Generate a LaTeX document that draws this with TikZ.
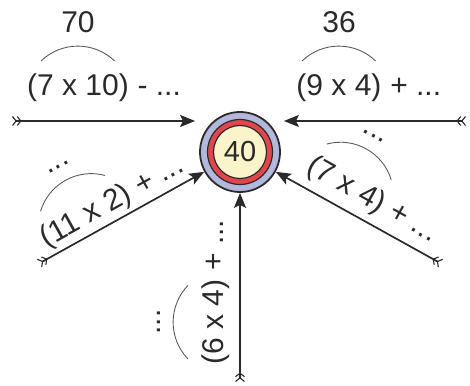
\documentclass[tikz,border=0pt]{standalone}
\usepackage{fontspec}
\setmainfont{Liberation Sans}
\usepackage{tikz}
\usetikzlibrary{arrows.meta}
\definecolor{inkline}{HTML}{2A2A2A}
\definecolor{humpgray}{HTML}{5C5C5C}
\definecolor{ringblue}{HTML}{B4B7DC}
\definecolor{ringred}{HTML}{E0464C}
\definecolor{corecream}{HTML}{FBF3C9}
\tikzset{
  arr/.style={{Straight Barb[reversed,length=3.5pt,width=9pt,line width=1.1pt]Straight Barb[reversed,length=3.5pt,width=9pt,line width=1.1pt]}-{Stealth[length=15pt,width=12pt,inset=3pt]},
    draw=inkline, line width=1.7pt},
  lbl/.style={inner sep=0pt, text=inkline, font=\fontsize{30}{36}\selectfont},
  hump/.style={draw=humpgray, line width=0.9pt},
  target/.style={circle, minimum size=80pt, inner sep=0pt, draw=inkline,
    fill=ringblue, line width=1.8pt},
  core/.style={circle, minimum size=53pt, inner sep=0pt, draw=inkline,
    fill=corecream, line width=1.2pt, text=inkline, font=\fontsize{29}{34}\selectfont},
}
% label on one arm: name, base point, angle, product, rest, value over the arc
\newcommand{\armlabel}[6]{%
  \begin{scope}[shift={#2}, rotate=#3, transform shape]
    \node[lbl, anchor=base] (#1) at (0,0) {#4};
    \node[lbl, anchor=base west] (#1r) at (#1.base east) {~#5};
    \draw[hump] (-37pt,35pt) arc[start angle=134, end angle=46, radius=53pt];
    \node[lbl, anchor=base] (#1t) at (0,63pt) {#6};
  \end{scope}}

\begin{document}
\begin{tikzpicture}[x=1pt, y=1pt]
  \useasboundingbox (0,0) rectangle (470,385);

  % the target
  \node[target] (c) at (240,233) {};
  \draw[line width=1.2pt, draw=inkline, fill=ringred] (c.center) circle[radius=32.5pt];
  \node[core] (n40) at (c.center) {40};

  % tails of the arms
  \coordinate (tl) at (12,264);
  \coordinate (tr) at (466,264);
  \coordinate (tbl) at (39,121.5);
  \coordinate (tbr) at (441,121.5);
  \coordinate (tb) at (240,3);

  \draw[arr, shorten >=4pt] (tl) -- (tl -| c.west);
  \draw[arr, shorten >=3pt] (tr) -- (tr -| c.east);
  \draw[arr] (tbl) -- (c.209);
  \draw[arr] (tbr) -- (c.331);
  \draw[arr] (tb) -- (c.south);

  \armlabel{lab70}{(78,289)}{0}{(7 x 10)}{- ...}{70}
  \armlabel{lab36}{(339,289)}{0}{(9 x 4)}{+ ...}{36}
  \armlabel{lab11}{(89.9,161.2)}{29}{(11 x 2)}{+ ...}{...}
  \armlabel{lab7}{(342.2,192.4)}{-29}{(7 x 4)}{+ ...}{...}
  \armlabel{lab6}{(223,63)}{90}{(6 x 4)}{+ ...}{...}
\end{tikzpicture}
\end{document}
